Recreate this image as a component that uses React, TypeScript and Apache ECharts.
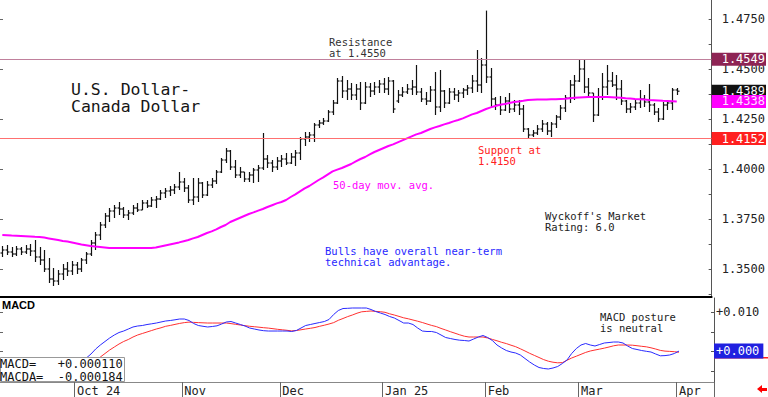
import React, { useEffect, useRef } from 'react';
import * as echarts from 'echarts';

const dates = [
  '9/9','9/10','9/11','9/12','9/13','9/16','9/17','9/18','9/19','9/20','9/23','9/24','9/25','9/26','9/27','9/30',
  '10/1','10/2','10/3','10/4','10/7','10/8','10/9','10/10','10/11','10/14','10/15','10/16','10/17','10/18','10/21','10/22','10/23','10/24','10/25','10/28','10/29','10/30','10/31',
  '11/1','11/4','11/5','11/6','11/7','11/8','11/11','11/12','11/13','11/14','11/15','11/18','11/19','11/20','11/21','11/22','11/25','11/26','11/27','11/28','11/29',
  '12/2','12/3','12/4','12/5','12/6','12/9','12/10','12/11','12/12','12/13','12/16','12/17','12/18','12/19','12/20','12/23','12/24','12/25','12/26','12/27','12/30','12/31',
  '1/2','1/3','1/6','1/7','1/8','1/9','1/10','1/13','1/14','1/15','1/16','1/17','1/20','1/21','1/22','1/23','1/24','1/27','1/28','1/29','1/30','1/31',
  '2/3','2/4','2/5','2/6','2/7','2/10','2/11','2/12','2/13','2/14','2/17','2/18','2/19','2/20','2/21','2/24','2/25','2/26','2/27','2/28',
  '3/3','3/4','3/5','3/6','3/7','3/10','3/11','3/12','3/13','3/14','3/17','3/18','3/19','3/20','3/21','3/24','3/25','3/26','3/27','3/28','3/31',
  '4/1','4/2','4/3','4/4','4/7','4/8','4/9','4/10'
];

const tickDates = ['10/1', '11/1', '12/2', '1/2', '2/3', '3/3', '4/1'];
const tickTexts = ['Oct 24', 'Nov', 'Dec', 'Jan 25', 'Feb', 'Mar', 'Apr'];

const opens = [
  1.3580,1.3595,1.3585,1.3575,1.3600,1.3585,1.3600,1.3590,1.3560,1.3545,
  1.3500,1.3450,1.3440,1.3475,1.3500,1.3490,1.3520,1.3500,1.3545,1.3575,
  1.3630,1.3670,1.3720,1.3765,1.3790,1.3805,1.3800,1.3770,1.3780,1.3805,
  1.3795,1.3830,1.3815,1.3845,1.3850,1.3880,1.3890,1.3895,1.3910,1.3935,
  1.3905,1.3845,1.3860,1.3930,1.3870,1.3920,1.3940,1.3985,1.4045,1.4090,
  1.4010,1.3970,1.3985,1.3950,1.3970,1.3995,1.4005,1.4050,1.4030,1.4010,
  1.4040,1.4050,1.4030,1.4060,1.4080,1.4150,1.4160,1.4170,1.4220,1.4230,
  1.4240,1.4285,1.4330,1.4440,1.4390,1.4400,1.4370,1.4400,1.4330,1.4410,
  1.4390,1.4410,1.4425,1.4400,1.4440,1.4340,1.4370,1.4385,1.4400,1.4410,
  1.4385,1.4350,1.4340,1.4395,1.4310,1.4390,1.4330,1.4385,1.4370,1.4380,
  1.4395,1.4405,1.4440,1.4420,1.4520,1.4460,1.4350,1.4320,1.4295,1.4340,
  1.4300,1.4320,1.4300,1.4200,1.4170,1.4180,1.4200,1.4225,1.4190,1.4225,
  1.4260,1.4305,1.4355,1.4420,1.4440,1.4500,1.4410,1.4380,1.4270,1.4360,
  1.4410,1.4440,1.4420,1.4400,1.4340,1.4300,1.4310,1.4330,1.4350,1.4335,
  1.4320,1.4285,1.4250,1.4320,1.4330,1.4395
];
const highs = [
  1.3615,1.3620,1.3610,1.3615,1.3610,1.3620,1.3625,1.3645,1.3610,1.3595,
  1.3555,1.3505,1.3495,1.3525,1.3535,1.3540,1.3535,1.3555,1.3585,1.3645,
  1.3685,1.3735,1.3780,1.3805,1.3820,1.3835,1.3810,1.3795,1.3820,1.3830,
  1.3845,1.3845,1.3860,1.3865,1.3895,1.3905,1.3915,1.3925,1.3985,1.3955,
  1.3920,1.3955,1.3955,1.3935,1.3940,1.3955,1.3995,1.4055,1.4105,1.4095,
  1.4045,1.4010,1.3985,1.3985,1.4005,1.4020,1.4180,1.4070,1.4045,1.4060,
  1.4070,1.4080,1.4080,1.4095,1.4160,1.4185,1.4185,1.4230,1.4245,1.4255,
  1.4295,1.4345,1.4455,1.4465,1.4445,1.4430,1.4425,1.4435,1.4435,1.4430,
  1.4435,1.4445,1.4455,1.4460,1.4445,1.4395,1.4410,1.4425,1.4445,1.4520,
  1.4405,1.4385,1.4415,1.4485,1.4495,1.4395,1.4405,1.4405,1.4395,1.4405,
  1.4420,1.4470,1.4595,1.4555,1.4792,1.4505,1.4360,1.4365,1.4360,1.4380,
  1.4345,1.4345,1.4320,1.4205,1.4195,1.4220,1.4245,1.4235,1.4235,1.4270,
  1.4320,1.4370,1.4445,1.4470,1.4545,1.4545,1.4455,1.4380,1.4405,1.4480,
  1.4520,1.4485,1.4470,1.4445,1.4345,1.4330,1.4345,1.4395,1.4370,1.4425,
  1.4330,1.4305,1.4335,1.4345,1.4405,1.4405
];
const lows = [
  1.3560,1.3570,1.3560,1.3565,1.3570,1.3575,1.3565,1.3535,1.3520,1.3485,
  1.3430,1.3415,1.3420,1.3445,1.3465,1.3470,1.3475,1.3485,1.3525,1.3565,
  1.3595,1.3645,1.3705,1.3735,1.3755,1.3770,1.3755,1.3745,1.3770,1.3785,
  1.3795,1.3805,1.3810,1.3805,1.3845,1.3855,1.3865,1.3875,1.3895,1.3885,
  1.3830,1.3820,1.3835,1.3855,1.3865,1.3905,1.3925,1.3980,1.4030,1.3995,
  1.3955,1.3955,1.3935,1.3935,1.3930,1.3935,1.3995,1.4005,1.3985,1.3995,
  1.4010,1.4020,1.4025,1.4015,1.4045,1.4115,1.4135,1.4135,1.4205,1.4220,
  1.4235,1.4270,1.4325,1.4355,1.4345,1.4345,1.4345,1.4295,1.4325,1.4360,
  1.4370,1.4380,1.4380,1.4370,1.4280,1.4330,1.4360,1.4375,1.4370,1.4370,
  1.4335,1.4320,1.4335,1.4270,1.4285,1.4305,1.4325,1.4345,1.4335,1.4355,
  1.4370,1.4380,1.4385,1.4380,1.4430,1.4310,1.4295,1.4270,1.4290,1.4280,
  1.4285,1.4270,1.4185,1.4155,1.4160,1.4170,1.4185,1.4170,1.4160,1.4205,
  1.4245,1.4285,1.4330,1.4345,1.4435,1.4380,1.4360,1.4235,1.4265,1.4345,
  1.4370,1.4410,1.4345,1.4320,1.4280,1.4280,1.4295,1.4305,1.4310,1.4285,
  1.4270,1.4235,1.4245,1.4295,1.4295,1.4370
];
const closes = [
  1.3595,1.3585,1.3575,1.3600,1.3585,1.3600,1.3590,1.3560,1.3545,1.3500,
  1.3450,1.3440,1.3475,1.3500,1.3490,1.3520,1.3500,1.3545,1.3575,1.3630,
  1.3670,1.3720,1.3765,1.3790,1.3805,1.3800,1.3770,1.3780,1.3805,1.3795,
  1.3830,1.3815,1.3845,1.3850,1.3880,1.3890,1.3895,1.3910,1.3935,1.3905,
  1.3845,1.3860,1.3930,1.3870,1.3920,1.3940,1.3985,1.4045,1.4090,1.4010,
  1.3970,1.3985,1.3950,1.3970,1.3995,1.4005,1.4050,1.4030,1.4010,1.4040,
  1.4050,1.4030,1.4060,1.4080,1.4150,1.4160,1.4170,1.4220,1.4230,1.4240,
  1.4285,1.4330,1.4440,1.4390,1.4400,1.4370,1.4400,1.4330,1.4410,1.4390,
  1.4410,1.4425,1.4400,1.4440,1.4300,1.4370,1.4385,1.4400,1.4410,1.4385,
  1.4350,1.4340,1.4395,1.4310,1.4390,1.4330,1.4385,1.4370,1.4380,1.4395,
  1.4405,1.4440,1.4420,1.4520,1.4460,1.4350,1.4320,1.4295,1.4340,1.4300,
  1.4320,1.4300,1.4200,1.4170,1.4180,1.4200,1.4225,1.4190,1.4225,1.4260,
  1.4305,1.4355,1.4420,1.4440,1.4500,1.4410,1.4380,1.4270,1.4360,1.4410,
  1.4440,1.4420,1.4400,1.4340,1.4300,1.4310,1.4330,1.4350,1.4335,1.4320,
  1.4285,1.4250,1.4320,1.4330,1.4395,1.4389
];

const ma50 = [
  1.3670,1.3669,1.3667,1.3666,1.3665,1.3664,1.3663,1.3661,1.3660,1.3657,
  1.3653,1.3649,1.3645,1.3640,1.3637,1.3633,1.3628,1.3623,1.3619,1.3615,
  1.3612,1.3610,1.3608,1.3605,1.3605,1.3605,1.3605,1.3605,1.3605,1.3605,
  1.3605,1.3605,1.3605,1.3608,1.3613,1.3618,1.3623,1.3628,1.3633,1.3639,
  1.3645,1.3653,1.3660,1.3670,1.3680,1.3688,1.3698,1.3710,1.3720,1.3735,
  1.3745,1.3755,1.3765,1.3775,1.3783,1.3792,1.3800,1.3810,1.3819,1.3828,
  1.3835,1.3845,1.3860,1.3873,1.3888,1.3903,1.3915,1.3930,1.3945,1.3958,
  1.3973,1.3988,1.3997,1.4005,1.4015,1.4025,1.4038,1.4050,1.4060,1.4073,
  1.4085,1.4095,1.4105,1.4115,1.4123,1.4133,1.4143,1.4153,1.4163,1.4173,
  1.4180,1.4190,1.4200,1.4208,1.4215,1.4223,1.4230,1.4238,1.4245,1.4253,
  1.4263,1.4273,1.4280,1.4290,1.4300,1.4308,1.4315,1.4321,1.4325,1.4330,
  1.4335,1.4338,1.4341,1.4345,1.4346,1.4347,1.4348,1.4348,1.4349,1.4349,
  1.4350,1.4351,1.4354,1.4356,1.4358,1.4359,1.4360,1.4360,1.4360,1.4360,
  1.4360,1.4359,1.4358,1.4356,1.4354,1.4353,1.4350,1.4349,1.4347,1.4345,
  1.4344,1.4343,1.4341,1.4340,1.4339,1.4338
];

const macd = [
  -0.00343,-0.00368,-0.00393,-0.00419,-0.00444,-0.00470,-0.00495,-0.00520,-0.00546,-0.00596,
  -0.00647,-0.00673,-0.00673,-0.00647,-0.00596,-0.00520,-0.00444,-0.00317,-0.00165,-0.00063,
  0.00063,0.00165,0.00254,0.00343,0.00419,0.00482,0.00520,0.00571,0.00622,0.00647,
  0.00660,0.00685,0.00703,0.00723,0.00749,0.00774,0.00787,0.00805,0.00825,0.00825,
  0.00787,0.00711,0.00660,0.00640,0.00622,0.00635,0.00652,0.00698,0.00749,0.00761,
  0.00723,0.00685,0.00647,0.00596,0.00571,0.00546,0.00528,0.00520,0.00520,0.00520,
  0.00520,0.00520,0.00508,0.00533,0.00596,0.00660,0.00685,0.00711,0.00736,0.00761,
  0.00812,0.00939,0.01041,0.01091,0.01096,0.01104,0.01104,0.01104,0.01104,0.01066,
  0.01015,0.00977,0.00939,0.00888,0.00850,0.00787,0.00723,0.00723,0.00685,0.00596,
  0.00520,0.00508,0.00508,0.00482,0.00419,0.00355,0.00330,0.00305,0.00287,0.00279,
  0.00266,0.00317,0.00368,0.00406,0.00355,0.00279,0.00165,0.00089,0.00025,-0.00013,
  -0.00038,-0.00089,-0.00178,-0.00266,-0.00343,-0.00406,-0.00431,-0.00444,-0.00419,-0.00381,
  -0.00305,-0.00216,-0.00051,0.00076,0.00165,0.00203,0.00165,0.00140,0.00178,0.00216,
  0.00228,0.00241,0.00241,0.00216,0.00140,0.00076,0.00051,0.00025,0.00005,-0.00013,
  -0.00063,-0.00109,-0.00104,-0.00089,-0.00051,0.00011
];
const macdSignal = [
  -0.00444,-0.00470,-0.00495,-0.00520,-0.00546,-0.00571,-0.00596,-0.00622,-0.00647,-0.00673,
  -0.00698,-0.00698,-0.00698,-0.00673,-0.00647,-0.00596,-0.00546,-0.00470,-0.00393,-0.00317,
  -0.00216,-0.00140,-0.00051,0.00038,0.00114,0.00190,0.00254,0.00305,0.00368,0.00419,
  0.00457,0.00495,0.00533,0.00571,0.00602,0.00640,0.00662,0.00688,0.00713,0.00733,
  0.00746,0.00739,0.00733,0.00728,0.00723,0.00723,0.00723,0.00723,0.00723,0.00708,
  0.00690,0.00673,0.00655,0.00640,0.00629,0.00617,0.00604,0.00594,0.00579,0.00563,
  0.00551,0.00538,0.00523,0.00533,0.00551,0.00571,0.00589,0.00609,0.00640,0.00667,
  0.00698,0.00733,0.00792,0.00838,0.00886,0.00926,0.00972,0.01008,0.01018,0.01028,
  0.01018,0.01010,0.00995,0.00957,0.00926,0.00891,0.00855,0.00830,0.00799,0.00769,
  0.00736,0.00698,0.00662,0.00632,0.00586,0.00546,0.00503,0.00464,0.00424,0.00388,
  0.00368,0.00368,0.00368,0.00368,0.00343,0.00307,0.00272,0.00233,0.00201,0.00160,
  0.00122,0.00069,0.00013,-0.00046,-0.00099,-0.00152,-0.00206,-0.00246,-0.00272,-0.00287,
  -0.00282,-0.00223,-0.00165,-0.00119,-0.00071,-0.00023,0.00013,0.00038,0.00061,0.00086,
  0.00114,0.00145,0.00165,0.00165,0.00165,0.00160,0.00147,0.00132,0.00119,0.00094,
  0.00063,0.00028,0.00010,0.00003,-0.00005,-0.000184
];

const priceLabelTicks = [1.35, 1.375, 1.4, 1.425, 1.45, 1.475];
const priceMinorTicks = [1.3375, 1.35, 1.3625, 1.375, 1.3875, 1.4, 1.4125, 1.425, 1.4375, 1.45, 1.4625, 1.475];
const macdLabelTicks = [0.01];
const macdMinorTicks = [0.01, 0.005, 0, -0.005];

const resistanceLevel = 1.4549;
const supportLevel = 1.4152;
const lastClose = 1.4389;
const lastMA = 1.4338;
const macdLast = 0.00011;

const MONO = '"DejaVu Sans Mono", monospace';

function boxLabel(bg: string, fg: string, text: string) {
  return {
    show: true,
    position: 'end',
    distance: 0,
    formatter: text,
    color: fg,
    opacity: 1,
    backgroundColor: bg,
    padding: [1, 1, 0, 10],
    fontFamily: MONO,
    fontSize: 12,
    lineHeight: 12,
  };
}

const hiddenLine = { color: 'rgba(0,0,0,0)', width: 0, type: 'solid' };

function note(x: number, y: number, text: string, color: string, size = 10.5, lh = 11) {
  return {
    type: 'text',
    x,
    y,
    z: 50,
    style: { text, fill: color, fontFamily: MONO, fontSize: size, lineHeight: lh, textVerticalAlign: 'top' },
  };
}

export default function App() {
  const ref = useRef<HTMLDivElement>(null);
  useEffect(() => {
    if (!ref.current) return;
    const chart = echarts.init(ref.current, null, { renderer: 'svg' });
    const ohlc = opens.map((o, i) => [i, o, highs[i], lows[i], closes[i]]);
    const isTick = (_i: number, v: string) => tickDates.indexOf(v) >= 0;
    const option: any = {
      animation: false,
      backgroundColor: '#ffffff',
      grid: [
        { left: 0, top: 0, width: 714, height: 297 },
        { left: 0, top: 298, width: 714, height: 84 },
      ],
      xAxis: [
        {
          type: 'category', gridIndex: 0, data: dates, boundaryGap: true,
          axisLine: { show: true, onZero: false, lineStyle: { color: '#000', width: 2 } },
          axisTick: { show: false }, axisLabel: { show: false }, splitLine: { show: false },
        },
        {
          type: 'category', gridIndex: 1, data: dates, boundaryGap: true,
          axisLine: { show: true, onZero: false, lineStyle: { color: '#888', width: 1 } },
          axisTick: { show: true, interval: isTick, length: 15, lineStyle: { color: '#666' } },
          axisLabel: {
            interval: isTick,
            formatter: (v: string) => tickTexts[tickDates.indexOf(v)] || '',
            align: 'left', margin: 3, fontFamily: MONO, fontSize: 12, color: '#222',
          },
          splitLine: { show: false },
        },
      ],
      yAxis: [
        {
          type: 'value', gridIndex: 0, position: 'right', min: 1.336, max: 1.4845, scale: true,
          axisLine: { show: true, lineStyle: { color: '#555' } },
          axisTick: { show: true, inside: true, length: 3, customValues: priceMinorTicks, lineStyle: { color: '#555' } },
          axisLabel: { customValues: priceLabelTicks, formatter: (v: number) => v.toFixed(4), margin: 10, fontFamily: MONO, fontSize: 12, color: '#222' },
          splitLine: { show: false },
        },
        {
          type: 'value', gridIndex: 0, position: 'left', min: 1.336, max: 1.4845, scale: true,
          axisLine: { show: false },
          axisTick: { show: true, inside: true, length: 3, customValues: priceLabelTicks, lineStyle: { color: '#666' } },
          axisLabel: { show: false }, splitLine: { show: false },
        },
        {
          type: 'value', gridIndex: 1, position: 'right', min: -0.00774, max: 0.01358,
          axisLine: { show: true, lineStyle: { color: '#555' } },
          axisTick: { show: true, inside: true, length: 3, customValues: macdMinorTicks, lineStyle: { color: '#555' } },
          axisLabel: { customValues: macdLabelTicks, formatter: (v: number) => (v >= 0 ? '+' : '') + v.toFixed(3), margin: 2, fontFamily: MONO, fontSize: 12, color: '#222' },
          splitLine: { show: false },
        },
        {
          type: 'value', gridIndex: 1, position: 'left', min: -0.00774, max: 0.01358,
          axisLine: { show: false },
          axisTick: { show: true, inside: true, length: 3, customValues: [0.01, 0.005, 0], lineStyle: { color: '#666' } },
          axisLabel: { show: false }, splitLine: { show: false },
        },
      ],
      series: [
        {
          type: 'custom', xAxisIndex: 0, yAxisIndex: 0, data: ohlc,
          encode: { x: 0, y: [1, 2, 3, 4] },
          renderItem: (_p: any, api: any) => {
            const i = api.value(0);
            const po = api.coord([i, api.value(1)]);
            const ph = api.coord([i, api.value(2)]);
            const pl = api.coord([i, api.value(3)]);
            const pc = api.coord([i, api.value(4)]);
            const x = Math.round(ph[0]) + 0.5;
            const st = { stroke: '#111', lineWidth: 1.2 };
            return {
              type: 'group',
              children: [
                { type: 'line', shape: { x1: x, y1: ph[1], x2: x, y2: pl[1] }, style: st },
                { type: 'line', shape: { x1: x - 2, y1: po[1], x2: x, y2: po[1] }, style: st },
                { type: 'line', shape: { x1: x, y1: pc[1], x2: x + 2, y2: pc[1] }, style: st },
              ],
            };
          },
        },
        {
          type: 'line', xAxisIndex: 0, yAxisIndex: 0, data: ma50, symbol: 'none',
          lineStyle: { color: '#ff00ff', width: 2 }, itemStyle: { color: '#ff00ff' },
          markLine: {
            silent: true, symbol: ['none', 'none'], precision: 4,
            data: [
              { yAxis: resistanceLevel, lineStyle: { color: '#c0809c', width: 1, type: 'solid' }, label: boxLabel('#8e2454', '#ffffff', resistanceLevel.toFixed(4)) },
              { yAxis: supportLevel, lineStyle: { color: '#ff7070', width: 1, type: 'solid' }, label: boxLabel('#ff2020', '#ffffff', supportLevel.toFixed(4)) },
              { yAxis: lastClose, lineStyle: hiddenLine, label: boxLabel('#111111', '#ffffff', lastClose.toFixed(4)) },
              { yAxis: lastMA, lineStyle: hiddenLine, label: boxLabel('#ff00ff', '#ffe0ff', lastMA.toFixed(4)) },
            ],
          },
        },
        {
          type: 'line', xAxisIndex: 1, yAxisIndex: 2, data: macdSignal, symbol: 'none',
          lineStyle: { color: '#ff3030', width: 1 }, itemStyle: { color: '#ff3030' },
        },
        {
          type: 'line', xAxisIndex: 1, yAxisIndex: 2, data: macd, symbol: 'none',
          lineStyle: { color: '#2a2aff', width: 1 }, itemStyle: { color: '#2a2aff' },
          markLine: {
            silent: true, symbol: ['none', 'none'], precision: 6,
            data: [
              {
                yAxis: macdLast, lineStyle: hiddenLine,
                label: { ...boxLabel('#2020e0', '#ffffff', (macdLast >= 0 ? '+' : '') + macdLast.toFixed(3)), padding: [2, 4, 1, 2] },
              },
            ],
          },
        },
      ],
      graphic: [
        note(71, 80.5, 'U.S. Dollar-\nCanada Dollar', '#151515', 16.5, 17),
        note(329, 36.5, 'Resistance\nat 1.4550', '#333333'),
        note(478, 144.5, 'Support at\n1.4150', '#ff2020'),
        note(333, 179.5, '50-day mov. avg.', '#ff00ff'),
        note(325, 245.5, 'Bulls have overall near-term\ntechnical advantage.', '#2828ff'),
        note(545, 210.5, "Wyckoff's Market\nRating: 6.0", '#222222'),
        note(600, 311.5, 'MACD posture\nis neutral', '#222222'),
        {
          type: 'text', x: 2, y: 299, z: 50,
          style: { text: 'MACD', fill: '#000', fontFamily: '"Liberation Sans", Arial, sans-serif', fontWeight: 'bold', fontSize: 11, textVerticalAlign: 'top' },
        },
        { type: 'rect', z: 100, shape: { x: 0.5, y: 357.5, width: 124, height: 24 }, style: { fill: '#fff', stroke: '#999', lineWidth: 1 } },
        {
          type: 'text', x: 0, y: 357, z: 101,
          style: { text: 'MACD=   +0.000110\nMACDA=  -0.000184', fill: '#111', fontFamily: MONO, fontSize: 12, lineHeight: 13, textVerticalAlign: 'top' },
        },
        { type: 'rect', z: 1, shape: { x: 714, y: 357, width: 54, height: 1.5 }, style: { fill: '#ff2020' } },
        {
          type: 'polygon', z: 50,
          shape: { points: [[757, 389], [762, 385], [762, 388], [767, 388], [767, 391], [762, 391], [762, 393]] },
          style: { fill: '#ff0000' },
        },
      ],
    };
    chart.setOption(option);
    return () => chart.dispose();
  }, []);
  return <div ref={ref} style={{ position: 'absolute', left: 0, top: 0, width: 768, height: 397, background: '#fff' }} />;
}
